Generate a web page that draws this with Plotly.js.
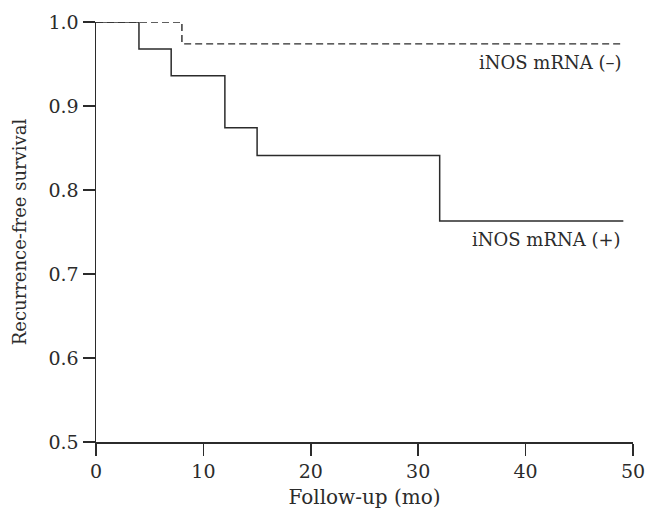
<!DOCTYPE html>
<html>
<head>
<meta charset="utf-8">
<script src="https://cdn.plot.ly/plotly-3.0.1.min.js"></script>
<style>html,body{margin:0;padding:0;background:#fff;}#chart{width:648px;height:509px;}</style>
</head>
<body>
<div id="chart"></div>
<script>
// Kaplan-Meier recurrence-free survival data
const negTime = [0, 8, 49.1];
const negSurv = [1.0, 0.974, 0.974];
const posTime = [0, 4, 7, 12, 15, 32, 49.1];
const posSurv = [1.0, 0.968, 0.936, 0.874, 0.841, 0.763, 0.763];
const negLabel = "iNOS mRNA (–)";
const posLabel = "iNOS mRNA (+)";
const xTicks = [0, 10, 20, 30, 40, 50];
const yTicks = [0.5, 0.6, 0.7, 0.8, 0.9, 1.0];
const yTickText = ["0.5", "0.6", "0.7", "0.8", "0.9", "1.0"];

const ink = "#2b2b2b";
const fontFam = "DejaVu Serif, Liberation Serif, serif";

const traces = [
  {x: negTime, y: negSurv, mode: "lines", line: {shape: "hv", color: ink, width: 1.4, dash: "7px,4px"}, showlegend: false, hoverinfo: "skip"},
  {x: posTime, y: posSurv, mode: "lines", line: {shape: "hv", color: ink, width: 1.5}, showlegend: false, hoverinfo: "skip"}
];

const layout = {
  width: 648, height: 509,
  margin: {l: 96, r: 15, t: 22, b: 67},
  paper_bgcolor: "#fff", plot_bgcolor: "#fff",
  font: {family: fontFam, color: ink, size: 19},
  xaxis: {
    range: [0, 50], tickvals: xTicks, showgrid: false, zeroline: false,
    showline: true, linecolor: ink, linewidth: 1.5,
    ticks: "outside", ticklen: 12, tickwidth: 1.5, tickcolor: ink,
    tickfont: {size: 19, family: fontFam, color: ink},
    title: {text: "Follow-up (mo)", font: {size: 20, family: fontFam, color: ink}, standoff: 13}
  },
  yaxis: {
    range: [0.5, 1.0], tickvals: yTicks, ticktext: yTickText, showgrid: false, zeroline: false,
    showline: true, linecolor: ink, linewidth: 1.5,
    ticks: "outside", ticklen: 12, tickwidth: 1.5, tickcolor: ink,
    tickfont: {size: 19, family: fontFam, color: ink},
    title: {text: "Recurrence-free survival", font: {size: 18, family: fontFam, color: ink}, standoff: 17}
  },
  annotations: [
    {x: negTime[negTime.length - 1], y: negSurv[negSurv.length - 1], xref: "x", yref: "y", text: negLabel, showarrow: false, xanchor: "right", yanchor: "top", yshift: -6, font: {size: 18, family: fontFam, color: ink}},
    {x: posTime[posTime.length - 1], y: posSurv[posSurv.length - 1], xref: "x", yref: "y", text: posLabel, showarrow: false, xanchor: "right", yanchor: "top", yshift: -6, font: {size: 18, family: fontFam, color: ink}}
  ]
};

Plotly.newPlot("chart", traces, layout, {staticPlot: true, displayModeBar: false});
</script>
</body>
</html>
